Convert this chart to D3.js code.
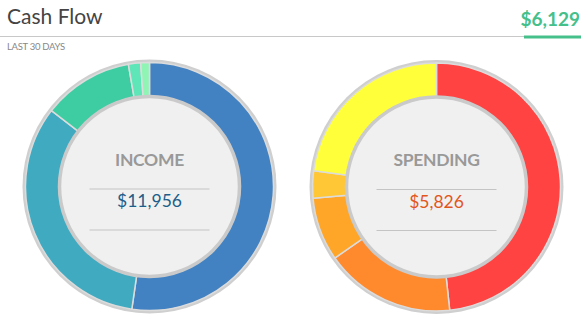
<!DOCTYPE html>
<html>
<head>
<meta charset="utf-8">
<script src="https://cdn.jsdelivr.net/npm/d3@7"></script>
<style>
  html, body { margin: 0; padding: 0; background: #fff; }
  svg { display: block; font-family: Lato, "Open Sans", sans-serif; }
</style>
</head>
<body>
<svg id="chart" width="586" height="325"></svg>
<script>
// Income and spending breakdown for the last 30 days
const incomeCategories = ["Salary", "Consulting", "Investments", "Refunds", "Other"];
const incomeValues = [6250.2, 3969.8, 1409.7, 189.8, 136.1];
const incomeColors = ["#4382c2", "#40aac1", "#3ecda2", "#5ee6b8", "#8ff5b5"];

const spendingCategories = ["Housing", "Food", "Transport", "Utilities", "Shopping"];
const spendingValues = [2814.1, 990.2, 480.9, 207.0, 1334.2];
const spendingColors = ["#ff4242", "#ff8a2e", "#ffa628", "#ffc735", "#ffff3a"];

const title = "Cash Flow";
const subtitle = "LAST 30 DAYS";
const fmt = d3.format("$,.0f");

const svg = d3.select("#chart");

// Header
svg.append("text").attr("x", 7).attr("y", 24)
  .attr("font-size", 21).attr("fill", "#444").text(title);
svg.append("line").attr("x1", 0).attr("x2", 524).attr("y1", 36.5).attr("y2", 36.5)
  .attr("stroke", "#c8c8c8").attr("stroke-width", 1);
svg.append("text").attr("x", 7).attr("y", 50)
  .attr("font-size", 9.5).attr("fill", "#888").attr("letter-spacing", -0.3).text(subtitle);

const net = d3.sum(incomeValues) - d3.sum(spendingValues);
svg.append("text").attr("x", 580).attr("y", 26)
  .attr("text-anchor", "end").attr("font-size", 19).attr("font-weight", 700)
  .attr("fill", "#46c08b").text(fmt(net));
svg.append("line").attr("x1", 524).attr("x2", 581).attr("y1", 37).attr("y2", 37)
  .attr("stroke", "#46c08b").attr("stroke-width", 3);

function donut(cx, cy, label, values, colors, valueColor) {
  const g = svg.append("g").attr("transform", `translate(${cx},${cy})`);
  const rOuter = 127, rRing = 124, rInner = 90;

  // grey rim behind the ring
  g.append("circle").attr("r", rOuter).attr("fill", "#cfcfcf");

  const pie = d3.pie().sort(null).value(d => d);
  const arc = d3.arc().innerRadius(rInner).outerRadius(rRing);
  g.selectAll("path.slice").data(pie(values)).join("path")
    .attr("class", "slice")
    .attr("d", arc)
    .attr("fill", (d, i) => colors[i])
    .attr("stroke", "#dcdcdc").attr("stroke-width", 1.5);

  // centre disc
  g.append("circle").attr("r", rInner).attr("fill", "#f0f0f0")
    .attr("stroke", "#cacaca").attr("stroke-width", 3.5);

  g.append("text").attr("y", -21).attr("text-anchor", "middle")
    .attr("font-size", 17.5).attr("font-weight", 700).attr("fill", "#999")
    .attr("letter-spacing", -0.3).text(label);
  g.append("line").attr("x1", -60).attr("x2", 60).attr("y1", 2.5).attr("y2", 2.5)
    .attr("stroke", "#c4c4c4").attr("stroke-width", 1);
  g.append("text").attr("y", 20.5).attr("text-anchor", "middle")
    .attr("font-size", 17.5).attr("fill", valueColor).text(fmt(d3.sum(values)));
  g.append("line").attr("x1", -60).attr("x2", 60).attr("y1", 43.5).attr("y2", 43.5)
    .attr("stroke", "#c4c4c4").attr("stroke-width", 1);
}

donut(149.5, 186.5, "INCOME", incomeValues, incomeColors, "#1d5e8a");
donut(436.5, 187, "SPENDING", spendingValues, spendingColors, "#e2561c");
</script>
</body>
</html>
